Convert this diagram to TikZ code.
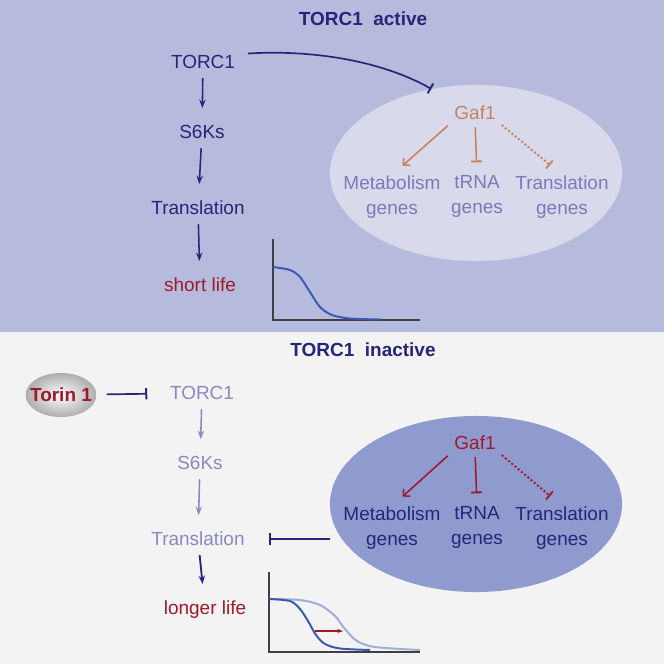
\documentclass[tikz,border=0pt]{standalone}
\usepackage{fontspec}
\setmainfont{Liberation Sans}
\usetikzlibrary{shapes.geometric,arrows.meta,positioning,calc}
\definecolor{topbg}{HTML}{B6BADC}
\definecolor{botbg}{HTML}{F3F3F3}
\definecolor{cellon}{HTML}{D8DAEB}
\definecolor{celloff}{HTML}{8F9BCE}
\definecolor{navy}{HTML}{25257A}
\definecolor{faded}{HTML}{8A87C6}
\definecolor{genefaded}{HTML}{7B79B9}
\definecolor{darkred}{HTML}{A0182A}
\definecolor{gafon}{HTML}{C8805E}
\definecolor{curveblue}{HTML}{3A5AB2}
\definecolor{curvelight}{HTML}{A2ACDA}

\begin{document}
\begin{tikzpicture}[x=0.025cm, y=-0.025cm,
    lbl/.style={font=\fontsize{13.5}{16}\selectfont, inner sep=0pt, text height=9.7pt, text depth=0pt},
    title/.style={lbl, font=\fontsize{13.5}{16}\selectfont\bfseries, text=navy},
    genetxt/.style={font=\fontsize{13.5}{17.8}\selectfont, inner sep=0pt, align=center, anchor=north},
    cell/.style={ellipse, minimum width=7.3cm, minimum height=4.4cm, inner sep=0pt},
    arr/.style={-{Stealth[length=6pt,width=4.5pt]}, line width=1.1pt, shorten <=6.5pt, shorten >=12pt},
    inhib/.style={-{Bar[width=8pt,line width=1.4pt]}, line width=1.2pt, navy},
    act/.style={-{Straight Barb[length=3.5pt,width=7pt]}, line width=1.1pt},
    block/.style={-{Bar[width=7.5pt,line width=1.3pt]}, line width=1.1pt},
    dots/.style={line width=1.4pt, dash pattern=on 1.4pt off 1.6pt},
    axis/.style={line width=1.3pt, black!75}]

    \useasboundingbox (0,0) rectangle (664,664);

    % panels
    \fill[topbg] (0,0) rectangle (664,332);
    \fill[botbg] (0,332) rectangle (664,664);

    % ---- TORC1 active ----
    \node[title] (titleA) at (363,19) {TORC1\ \ active};

    \node[lbl, text=navy] (torcA) at (203,62) {TORC1};
    \node[lbl, text=navy] (s6kA) at (202,132) {S6Ks};
    \node[lbl, text=navy] (transA) at (198,208) {Translation};
    \node[lbl, text=darkred] (lifeA) at (200,285) {short life};

    \draw[arr, navy] (torcA) -- (s6kA);
    \draw[arr, navy] (s6kA) -- (transA);
    \draw[arr, navy] (transA) -- (lifeA);

    % Gaf1 cell
    \node[cell, fill=cellon] (cellA) at (476,173) {};
    \node[lbl, text=gafon] (gafA) at (475,113) {Gaf1};
    \node[genetxt, text=genefaded] (metA) at (392,175) {Metabolism\\genes};
    \node[genetxt, text=genefaded] (trnaA) at (477,175) {tRNA\\genes};
    \node[genetxt, text=genefaded] (tlA) at (562,175) {Translation\\genes};

    \draw[act, gafon, shorten <=6pt, shorten >=10pt] (gafA.south west) -- (metA.north);
    \draw[block, gafon, shorten <=5pt, shorten >=9pt] (gafA.south) -- (trnaA.north);
    \draw[block, dots, gafon, shorten <=5.5pt, shorten >=11pt] (gafA.south east) -- (tlA.north);

    % TORC1 blocks Gaf1
    \draw[inhib] ([xshift=9pt,yshift=6pt]torcA.east) .. controls (300,50) and (375,57) .. (cellA.118);

    % survival curve
    \draw[axis] (273,239) -- (273,320) -- (420,320);
    \draw[curveblue, line width=1.4pt] plot[smooth] coordinates {(273,267) (290,270) (300,277) (310,292) (320,307) (332,315) (350,318.5) (380,319.5)};

    % ---- TORC1 inactive ----
    \node[title] (titleB) at (363,350) {TORC1\ \ inactive};

    \node[ellipse, minimum height=1.1cm, inner xsep=-4.2pt, inner ysep=0pt, inner color=white, outer color=black!32,
        font=\fontsize{13.5}{16}\selectfont\bfseries, text=darkred] (torin) at (61,395) {Torin 1};

    \node[lbl, text=faded] (torcB) at (202,393) {TORC1};
    \node[lbl, text=faded] (s6kB) at (200,463) {S6Ks};
    \node[lbl, text=faded] (transB) at (198,539) {Translation};
    \node[lbl, text=darkred] (lifeB) at (205,608) {longer life};

    \draw[inhib, shorten <=7pt, shorten >=16pt] (torin) -- (torcB);
    \draw[arr, faded] (torcB) -- (s6kB);
    \draw[arr, faded] (s6kB) -- (transB);
    \draw[arr, navy, line width=1.3pt] (transB) -- (lifeB);

    % Gaf1 cell
    \node[cell, fill=celloff] (cellB) at (476,504) {};
    \node[lbl, text=darkred] (gafB) at (475,443) {Gaf1};
    \node[genetxt, text=navy] (metB) at (392,506) {Metabolism\\genes};
    \node[genetxt, text=navy] (trnaB) at (477,506) {tRNA\\genes};
    \node[genetxt, text=navy] (tlB) at (562,506) {Translation\\genes};

    \draw[act, darkred, shorten <=6pt, shorten >=10pt] (gafB.south west) -- (metB.north);
    \draw[block, darkred, shorten <=5pt, shorten >=9pt] (gafB.south) -- (trnaB.north);
    \draw[block, dots, darkred, shorten <=5.5pt, shorten >=11pt] (gafB.south east) -- (tlB.north);

    % Gaf1 blocks translation
    \draw[inhib, shorten >=17pt] (cellB.west |- transB) -- (transB);

    % survival curves
    \draw[axis] (269,572) -- (269,652) -- (420,652);
    \draw[curvelight, line width=1.4pt] plot[smooth] coordinates {(269,599) (300,600) (320,605) (335,616) (345,629) (357,641) (375,647) (420,650)};
    \draw[curveblue, line width=1.4pt] plot[smooth] coordinates {(269,599) (290,601) (300,609) (308,621) (316,635) (325,644) (340,648.5) (370,650)};
    \draw[darkred, line width=0.8pt, -{Stealth[length=4pt,width=3pt]}] (315,631) -- (343,631);
\end{tikzpicture}
\end{document}
